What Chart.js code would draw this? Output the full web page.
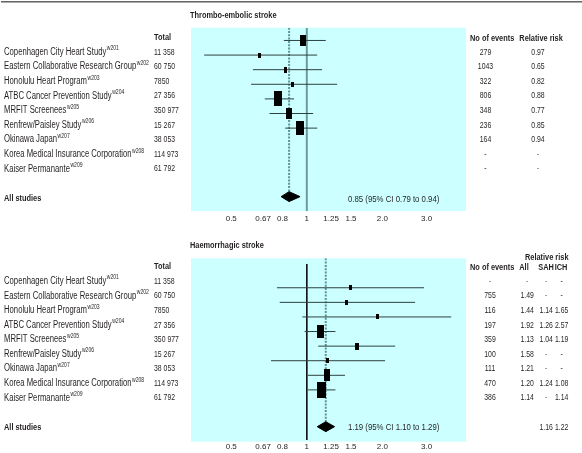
<!DOCTYPE html>
<html><head><meta charset="utf-8">
<script src="https://cdn.jsdelivr.net/npm/chart.js@4.4.0/dist/chart.umd.min.js"></script>
<style>
html,body{margin:0;padding:0;background:#fff;width:582px;height:453px;overflow:hidden}
#wrap{position:relative;width:582px;height:453px;overflow:hidden}
#topline{position:absolute;left:1px;top:1px;width:581px;height:1px;background:#666;border-bottom:1px solid #aaa}
canvas{position:absolute;left:0}
#c1{top:0}
#c2{top:226px}
</style></head><body>
<div id="wrap"><div id="topline"></div>
<canvas id="c1" width="582" height="226"></canvas>
<canvas id="c2" width="582" height="227"></canvas>
</div>
<script>
// ---------- data ----------
const studies = ['Copenhagen City Heart Study','Eastern Collaborative Research Group','Honolulu Heart Program','ATBC Cancer Prevention Study','MRFIT Screenees','Renfrew/Paisley Study','Okinawa Japan','Korea Medical Insurance Corporation','Kaiser Permanante'];
const refs = ['w201','w202','w203','w204','w205','w206','w207','w208','w209'];
const totals = [11358,60750,7850,27356,350977,15267,38053,114973,61792];
const tickValues = [0.5,0.67,0.8,1,1.25,1.5,2,3];
const tickLabels = ['0.5','0.67','0.8','1','1.25','1.5','2.0','3.0'];

// Thrombo-embolic stroke
const teEvents = [279,1043,322,806,348,236,164,null,null];
const teRR     = [0.97,0.65,0.82,0.88,0.77,0.85,0.94,null,null];
const teLow    = [0.81,0.39,0.61,0.60,0.68,0.71,0.82,null,null];
const teHigh   = [1.19,1.10,1.15,1.32,0.89,1.06,1.10,null,null];
const teWeight = [15.2,3.3,4.8,3.7,28.8,17.0,27.2,null,null];
const tePooled = [0.85,0.79,0.94];

// Haemorrhagic stroke
const hsEvents = [null,755,116,197,359,100,111,470,386];
const hsRR     = [null,1.49,1.44,1.92,1.13,1.58,1.21,1.20,1.14];
const hsLow    = [null,0.76,0.78,0.96,0.98,1.11,0.72,1.01,1.01];
const hsHigh   = [null,2.93,2.70,3.76,1.30,2.25,2.05,1.42,1.30];
const hsWeight = [null,3.9,3.9,3.9,22.7,7.1,3.9,19.1,35.4];
const hsSAH    = [null,null,1.14,1.26,1.04,null,null,1.24,null];
const hsICH    = [null,null,1.65,2.57,1.19,null,null,1.08,1.14];
const hsPooled = [1.19,1.10,1.29];
const hsPooledSAH = 1.16, hsPooledICH = 1.22;

// ---------- style ----------
const FONT = "'Liberation Sans',Arial,sans-serif";
const TXT = '#231f20';
const XMIN = 0.3456, XMAX = 4.308;
const DH = 0.34;       // diamond half height in rows
const POOLED_ROW = 11;
// text styles: [size, bold, horizontal condensation]
const S_LABEL = [10,false,0.77], S_BOLD = [9,true,0.82], S_SUP = [6.5,false,0.78],
      S_NUM = [9.3,false,0.74], S_SUM = [9.5,false,0.82];

function fmtInt(n){ if(n==null) return '-'; const s=String(n); return s.length>4 ? s.replace(/\B(?=(\d{3})+(?!\d))/g,' ') : s; }
function fmt2(v){ return v==null ? '-' : v.toFixed(2); }
function boxImage(weight){
  const h = 2.74*Math.sqrt(weight), w = h*0.54;
  const c = document.createElement('canvas');
  c.width = Math.max(2,Math.round(w)); c.height = Math.max(3,Math.round(h));
  const g = c.getContext('2d'); g.fillStyle='#000'; g.fillRect(0,0,c.width,c.height);
  return c;
}
// real text, horizontally condensed around its anchor
function txt(c,s,x,y,st,align){
  const [size,bold,sx]=st;
  c.save(); c.font=(bold?'bold ':'')+size+'px '+FONT; c.textAlign=align||'left'; c.textBaseline='middle'; c.fillStyle=TXT;
  c.translate(x,y); c.scale(sx,1); c.fillText(s,0,0);
  const w=c.measureText(s).width*sx; c.restore(); return w;
}

function panelDatasets(p){
  const ds=[];
  ds.push({data:[{x:1,y:p.solidFrom},{x:1,y:p.solidTo}],showLine:true,borderColor:p.solidColor,borderWidth:p.solidWidth,pointRadius:0,order:4});
  ds.push({data:[{x:p.pooled[0],y:p.yMin},{x:p.pooled[0],y:POOLED_ROW+p.diaShift-DH}],showLine:true,borderColor:'#5e9494',borderWidth:2,borderDash:[2,1.3],pointRadius:0,order:3});
  p.rr.forEach((v,i)=>{ if(v==null) return; const y=i+1+p.shift;
    ds.push({data:[{x:p.low[i],y},{x:p.high[i],y}],showLine:true,borderColor:'#2e4040',borderWidth:1,pointRadius:0,order:2}); });
  const pts=[], styles=[];
  p.rr.forEach((v,i)=>{ if(v==null) return; pts.push({x:v,y:i+1+p.shift}); styles.push(boxImage(p.weight[i])); });
  ds.push({data:pts,pointStyle:styles,pointRadius:5,showLine:false,order:0});
  const [e,l,h]=p.pooled, r=POOLED_ROW+p.diaShift;
  ds.push({data:[{x:l,y:r},{x:e,y:r-DH},{x:h,y:r},{x:e,y:r+DH},{x:l,y:r}],showLine:true,fill:'shape',backgroundColor:'#000',borderColor:'#000',borderWidth:1,pointRadius:0,order:0});
  return ds;
}

function drawStudyColumn(c, py){
  txt(c,'Total',154,py(0),S_BOLD);
  studies.forEach((s,i)=>{
    const y=py(i+1);
    const w=txt(c,s,4,y,S_LABEL);
    txt(c,refs[i],4+w+0.5,y-3.5,S_SUP);
    txt(c,fmtInt(totals[i]),154,y,S_NUM);
  });
  txt(c,'All studies',4,py(11),S_BOLD);
}

const bgPlugin = {id:'bg', beforeDraw(chart){ const a=chart.chartArea, c=chart.ctx; c.save(); c.fillStyle='#ccffff'; c.fillRect(a.left,a.top,a.right-a.left,a.bottom-a.top); c.restore(); }};

function makeChart(canvas, p){
  const textPlugin = {id:'txt', afterDraw(chart){
    const c=chart.ctx, yS=chart.scales.y; const py=r=>yS.getPixelForValue(r);
    c.save(); p.drawText(c,py); c.restore(); }};
  return new Chart(canvas,{
    type:'scatter',
    data:{datasets:panelDatasets(p)},
    options:{
      responsive:false, animation:false, devicePixelRatio:1, events:[],
      layout:{padding:{left:191,right:116,top:p.padTop,bottom:p.padBottom}},
      plugins:{legend:{display:false},tooltip:{enabled:false}},
      scales:{
        x:{type:'logarithmic',min:XMIN,max:XMAX,bounds:'data',
           grid:{display:false,drawTicks:false},border:{display:false},
           afterBuildTicks:(ax)=>{ ax.ticks=tickValues.map(v=>({value:v})); },
           ticks:{autoSkip:false,maxRotation:0,minRotation:0,padding:p.tickPad,color:TXT,
                  font:{family:FONT,size:8,lineHeight:1},
                  callback:(v,i)=>tickLabels[i]}},
        y:{type:'linear',reverse:true,min:p.yMin,max:p.yMax,display:false}
      }
    },
    plugins:[bgPlugin,textPlugin]
  });
}

// Panel 1
makeChart(document.getElementById('c1'),{
  rr:teRR,low:teLow,high:teHigh,weight:teWeight,pooled:tePooled,shift:-0.79,diaShift:-0.1,
  yMin:-0.664,yMax:11.884,padTop:27.7,padBottom:0.4,tickPad:3.3,
  solidFrom:-0.664,solidTo:11.884,solidColor:'#6e9a9a',solidWidth:2,
  drawText(c,py){
    txt(c,'Thrombo-embolic stroke',190,15.7,S_BOLD);
    drawStudyColumn(c,py);
    txt(c,'No of events',470,py(0.08),S_BOLD);
    txt(c,'Relative risk',519.3,py(0.08),S_BOLD);
    teEvents.forEach((v,i)=>txt(c,fmtInt(v),485.5,py(i+1),S_NUM,'center'));
    teRR.forEach((v,i)=>txt(c,fmt2(v),538,py(i+1),S_NUM,'center'));
    txt(c,tePooled[0].toFixed(2)+' (95% CI '+tePooled[1].toFixed(2)+' to '+tePooled[2].toFixed(2)+')',348,py(11.06),S_SUM);
  }
});

// Panel 2
makeChart(document.getElementById('c2'),{
  rr:hsRR,low:hsLow,high:hsHigh,weight:hsWeight,pooled:hsPooled,shift:-0.55,diaShift:-0.03,
  yMin:-0.569,yMax:12.0,padTop:32.3,padBottom:1.3,tickPad:1,
  solidFrom:-0.18,solidTo:11.88,solidColor:'#111',solidWidth:1,
  drawText(c,py){
    txt(c,'Haemorrhagic stroke',190,20,S_BOLD);
    drawStudyColumn(c,py);
    txt(c,'Relative risk',525,py(-0.64),S_BOLD);
    txt(c,'No of events',470,py(0.08),S_BOLD);
    txt(c,'All',524,py(0.08),S_BOLD,'center');
    txt(c,'SAH',546,py(0.08),S_BOLD,'center');
    txt(c,'ICH',561,py(0.08),S_BOLD,'center');
    hsEvents.forEach((v,i)=>txt(c,fmtInt(v),490,py(i+1),S_NUM,'center'));
    hsRR.forEach((v,i)=>txt(c,fmt2(v),527.2,py(i+1),S_NUM,'center'));
    hsSAH.forEach((v,i)=>txt(c,fmt2(v),546.2,py(i+1),S_NUM,'center'));
    hsICH.forEach((v,i)=>txt(c,fmt2(v),561.7,py(i+1),S_NUM,'center'));
    txt(c,fmt2(hsPooledSAH),546.2,py(11.04),S_NUM,'center');
    txt(c,fmt2(hsPooledICH),561.7,py(11.04),S_NUM,'center');
    txt(c,hsPooled[0].toFixed(2)+' (95% CI '+hsPooled[1].toFixed(2)+' to '+hsPooled[2].toFixed(2)+')',348,py(11.0),S_SUM);
  }
});
</script>
</body></html>
